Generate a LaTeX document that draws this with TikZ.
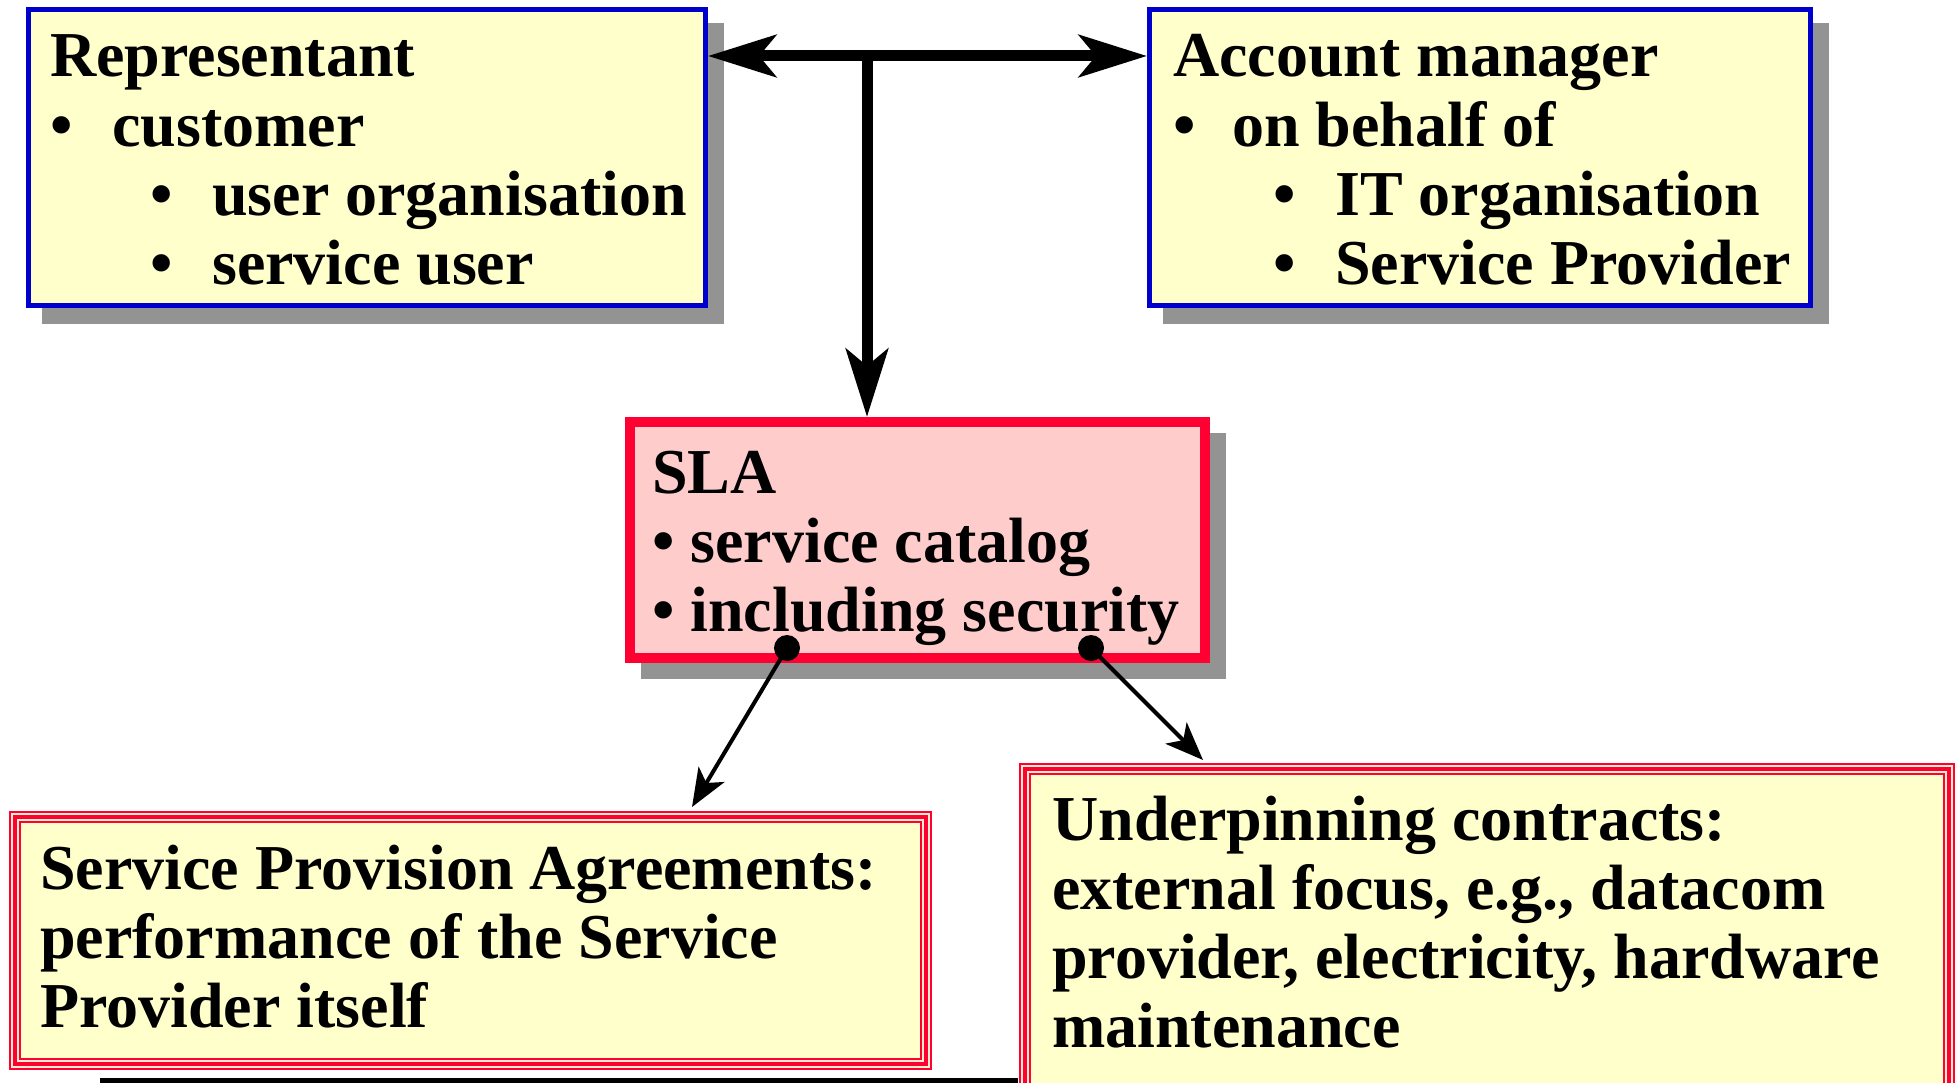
\documentclass[tikz,border=0pt]{standalone}
\usepackage{fontspec}
\setmainfont{Liberation Serif}
\usetikzlibrary{arrows.meta,backgrounds}
\definecolor{boxyellow}{HTML}{FFFFCC}
\definecolor{slapink}{HTML}{FFCCCC}
\definecolor{frameblue}{HTML}{0000CC}
\definecolor{framered}{HTML}{FF0033}
\definecolor{stripe}{HTML}{FFEECC}
\definecolor{shadowgray}{HTML}{939393}
\tikzset{
  bigtip/.tip={Stealth[length=68pt,width=42pt,inset=17pt]},
  smalltip/.tip={Stealth[length=38pt,width=30pt,inset=10pt]},
}
\begin{document}
\begin{tikzpicture}[x=1pt,y=-1pt,
  rolebox/.style={draw=frameblue, line width=5pt, fill=boxyellow,
    anchor=north west, inner sep=0pt},
  slabox/.style={draw=framered, line width=10pt, fill=slapink,
    anchor=north west, inner sep=0pt},
  contractbox/.style={anchor=north west, inner sep=0pt, outer sep=6pt,
    preaction={fill=boxyellow},
    preaction={draw=framered, line width=12pt},
    preaction={draw=stripe, line width=8pt},
    draw=framered, line width=4pt},
  % texts are placed by the baseline of their last line
  boxtext/.style={anchor=base west, align=left, inner sep=0pt,
    font=\fontsize{64pt}{69pt}\selectfont\bfseries},
  bigline/.style={line width=11pt},
  smallarrow/.style={line width=4pt, -smalltip},
]
\useasboundingbox (0,0) rectangle (1956,1083);

% boxes
\node[rolebox, minimum width=677pt, minimum height=296pt] (rep) at (26,7) {};
\node[rolebox, minimum width=661pt, minimum height=296pt] (acc) at (1147,7) {};
\node[slabox, minimum width=575pt, minimum height=236pt] (sla) at (625,417) {};
\node[contractbox, minimum width=911pt, minimum height=247pt] (spa) at (9,811) {};
\node[contractbox, minimum width=924pt, minimum height=330pt] (uc) at (1019,763) {};

% drop shadows
\begin{scope}[on background layer]
  \foreach \b in {rep,acc,sla}
    \fill[shadowgray] ([shift={(16,16)}]\b.north west) rectangle ([shift={(16,16)}]\b.south east);
\end{scope}

% texts
\node[boxtext] (reptext) at (50,284) {Representant\\
  \makebox[62pt][l]{•}customer\\
  \hspace*{100pt}\makebox[62pt][l]{•}user organisation\\
  \hspace*{100pt}\makebox[62pt][l]{•}service user};
\node[boxtext] (acctext) at (1173,284) {Account manager\\
  \makebox[59pt][l]{•}on behalf of\\
  \hspace*{100pt}\makebox[62pt][l]{•}IT organisation\\
  \hspace*{100pt}\makebox[62pt][l]{•}Service Provider};
\node[boxtext] (slatext) at (652,631) {SLA\\• service catalog\\• including security};
\node[boxtext] (spatext) at (40,1027) {Service Provision Agreements:\\
  performance of the Service\\Provider itself};
\node[boxtext] (uctext) at (1052,1047) {Underpinning contracts:\\
  external focus, e.g., datacom\\provider, electricity, hardware\\maintenance};

% connectors between the parties and the SLA
\coordinate (junc) at (867,56);
\draw[bigline, bigtip-bigtip] (rep.east |- junc) -- (acc.west |- junc);
\draw[bigline, -bigtip] (junc) -- (sla.north -| junc);

% connectors from the SLA to the supporting agreements
\coordinate (d1) at (787,648);
\coordinate (d2) at (1091,648);
\fill (d1) circle[radius=13pt];
\fill (d2) circle[radius=13pt];
\draw[smallarrow] (d1) -- ([xshift=221.5pt,yshift=4pt]spa.north);
\draw[smallarrow] (d2) -- ([xshift=-284pt,yshift=3pt]uc.north);

% bar along the lower edge
\fill (100,1078) rectangle (1018,1095);
\end{tikzpicture}
\end{document}
